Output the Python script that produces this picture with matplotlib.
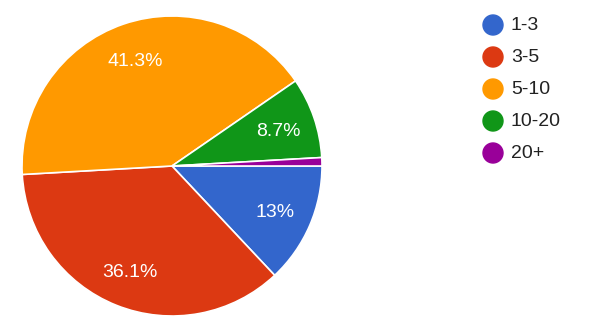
import matplotlib
matplotlib.use("Agg")
import matplotlib.pyplot as plt
from matplotlib.patches import Ellipse
import numpy as np

categories = ["1-3", "3-5", "5-10", "10-20", "20+"]
shares = [13.0, 36.1, 41.3, 8.7, 0.9]
pct_labels = ["13%", "36.1%", "41.3%", "8.7%", ""]
colors = ["#3366cc", "#dc3912", "#ff9900", "#109618", "#990099"]

plt.rcParams["font.family"] = ["Liberation Sans", "DejaVu Sans"]

fig = plt.figure(figsize=(5.9, 3.2), dpi=100)
# pie centre ~ (172, 166) px, radius ~150 px
ax = fig.add_axes([22 / 590, 4 / 320, 300 / 590, 300 / 320])
wedges, _ = ax.pie(shares, colors=colors, startangle=0, counterclock=False,
                   wedgeprops=dict(edgecolor="white", linewidth=1.2))
ax.set_xlim(-1, 1)
ax.set_ylim(-1, 1)
ax.set_aspect("equal")
ax.axis("off")

for w, lab in zip(wedges, pct_labels):
    mid = np.deg2rad((w.theta1 + w.theta2) / 2)
    if lab:
        ax.text(0.75 * np.cos(mid), 0.75 * np.sin(mid) - 0.015, lab, color="white",
                fontsize=14, ha="center", va="center")

# legend
for i, (cat, c) in enumerate(zip(categories, colors)):
    y = 1 - (25 + 32 * i) / 320
    fig.add_artist(Ellipse((493 / 590, y), 20 / 590, 20 / 320,
                           color=c, transform=fig.transFigure))
    fig.text(511 / 590, y, cat, fontsize=14, color="#222222", va="center", ha="left")

fig.savefig("out.png", dpi=100, facecolor="white")
